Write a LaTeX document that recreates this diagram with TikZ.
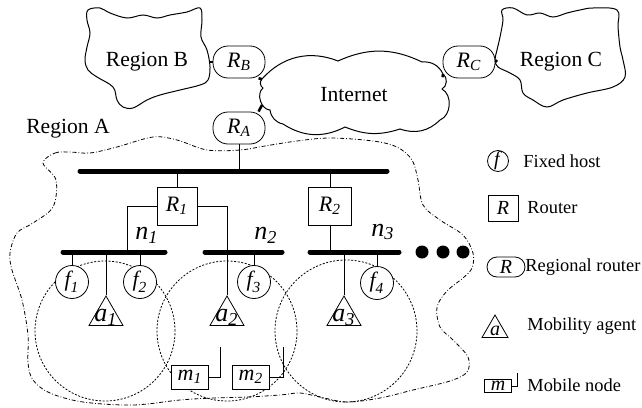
\documentclass[tikz,border=0pt]{standalone}
\usepackage{amsmath}
\usepackage{fontspec}
\setmainfont{Liberation Serif}
\usetikzlibrary{shapes.geometric}

\newcommand{\lbl}[2]{$\textit{#1}_{\textit{#2}}$}

\tikzset{
  host/.style={circle,draw,fill=white,minimum size=16.5pt,inner sep=0pt,font=\fontsize{11}{11}\selectfont},
  router/.style={rectangle,draw,fill=white,minimum width=20pt,minimum height=19pt,inner sep=0pt,font=\fontsize{11}{11}\selectfont},
  regrouter/.style={rectangle,rounded corners=7.5pt,draw,fill=white,minimum width=26pt,minimum height=16pt,inner sep=0pt,font=\fontsize{11}{11}\selectfont},
  agent/.style={regular polygon,regular polygon sides=3,draw,fill=white,minimum size=19.6pt,inner sep=0pt},
  mobile/.style={rectangle,draw,fill=white,minimum width=18.5pt,minimum height=12pt,inner sep=0pt,font=\fontsize{11}{11}\selectfont},
  bus/.style={line width=2.5pt,line cap=round},
  wire/.style={line width=0.5pt},
  link/.style={line width=1.3pt},
  cover/.style={line width=0.4pt,dash pattern=on 1pt off 0.8pt},
  border/.style={line width=0.4pt,dash pattern=on 2pt off 1pt on 0.4pt off 1pt},
  blob/.style={line width=0.5pt},
  legend/.style={anchor=west,inner sep=0pt,font=\fontsize{9.2}{10}\selectfont},
  region/.style={font=\fontsize{10.8}{12}\selectfont},
  netlbl/.style={font=\fontsize{13}{13}\selectfont}
}

\begin{document}
\begin{tikzpicture}[x=0.5pt,y=-0.5pt]
    \useasboundingbox (0,0) rectangle (642,407);

    \draw[blob] plot[smooth cycle,tension=0.6] coordinates {(88,10) (100,8) (110,13) (127,18) (143,15) (157,18) (170,15) (187,12) (200,8) (202,20) (201,37) (207,50) (210,67) (208,80) (200,85) (180,90) (160,95) (147,100) (133,108) (123,107) (117,100) (113,87) (97,77) (88,70) (85,60) (87,47) (90,33) (87,20)};
    \draw[blob] plot[smooth cycle,tension=0.6] coordinates {(502,10) (513,8) (527,15) (540,13) (553,17) (567,13) (580,10) (593,8) (617,10) (618,27) (620,47) (623,60) (625,77) (613,87) (587,93) (563,100) (547,107) (533,100) (523,93) (520,80) (510,73) (498,67) (495,60) (497,50) (500,37) (503,20)};

    \coordinate (c1) at (262,79);
    \coordinate (c2) at (338,61);
    \coordinate (c3) at (422,62);
    \coordinate (c4) at (443,74);
    \coordinate (c5) at (442,89);
    \coordinate (c6) at (440,120);
    \coordinate (c7) at (400,129);
    \coordinate (c8) at (345,127);
    \coordinate (c9) at (283,124);
    \coordinate (c10) at (270,110);
    \coordinate (c11) at (263,88);
    \draw[blob] (c1) to[bend left=35] (c2) to[bend left=25] (c3) to[bend left=35] (c4)
        to[bend left=60] (c5) to[bend left=65] (c6) to[bend left=32] (c7) to[bend left=20] (c8)
        to[bend left=30] (c9) to[bend left=35] (c10) to[bend left=70] (c11) to[bend left=53] cycle;

    \node[region] (regB) at (147,62) {Region B};
    \node[region] (regC) at (561,62) {Region C};
    \node[region] (inetlbl) at (354,95) {Internet};
    \node[region] (regA) at (68,129) {Region A};

    \draw[border] plot[smooth cycle,tension=0.55] coordinates {(43,163) (55,153) (70,152) (90,153) (117,147) (153,137) (177,140) (207,150) (240,150) (265,146) (297,141) (330,138) (373,141) (397,147) (412,160) (418,180) (423,205) (440,220) (463,235) (473,253) (472,268) (463,278) (447,291) (437,307) (440,327) (453,340) (468,357) (467,372) (450,381) (413,390) (380,398) (347,402) (320,397) (300,393) (280,395) (247,397) (213,398) (180,400) (133,405) (83,402) (50,393) (33,380) (28,363) (28,335) (22,300) (12,270) (10,253) (17,233) (33,223) (53,207) (56,180)};

    \draw[cover] (105,331) circle[radius=35pt];
    \draw[cover] (227,331) circle[radius=35pt];
    \draw[cover] (346,331) circle[radius=35.5pt];

    \node[regrouter] (RB) at (239,62) {\lbl{R}{B}};
    \node[regrouter] (RC) at (469,62) {\lbl{R}{C}};
    \node[regrouter] (RA) at (239,128) {\lbl{R}{A}};

    \coordinate (edgeB) at (209,62);
    \coordinate (edgeC) at (497,60);
    \coordinate (inetA) at (262,105);
    \draw[link] (RB.west) -- (edgeB);
    \draw[link] (RB.-40) -- (c1);
    \draw[link] (RC.-150) -- (c4);
    \draw[link] (RC.east) -- (edgeC);
    \draw[link] (RA.40) -- (inetA);

    \coordinate (b0w) at (80,171);
    \coordinate (b0e) at (387,171);
    \coordinate (b1w) at (63,252);
    \coordinate (b1e) at (165,252);
    \coordinate (b2w) at (205,252);
    \coordinate (b2e) at (282,252);
    \coordinate (b3w) at (310,252);
    \coordinate (b3e) at (399,252);
    \draw[bus] (b0w) -- (b0e);
    \draw[bus] (b1w) -- (b1e);
    \draw[bus] (b2w) -- (b2e);
    \draw[bus] (b3w) -- (b3e);

    \node[router] (R1) at (177,206) {\lbl{R}{1}};
    \node[router,minimum width=21.5pt] (R2) at (330,206) {\lbl{R}{2}};

    \coordinate (n1tap) at (127,252);
    \coordinate (n2tap) at (227,252);
    \draw[wire] (RA.south) -- (RA.south |- b0w);
    \draw[wire] (R1.north) -- (R1.north |- b0w);
    \draw[wire] (R2.north) -- (R2.north |- b0w);
    \draw[wire] (R1.west) -| (n1tap);
    \draw[wire] (R1.east) -| (n2tap);
    \draw[wire] (R2.south) -- (R2.south |- b3w);

    \node[netlbl] (n1) at (147,235) {\lbl{n}{1}};
    \node[netlbl] (n2) at (266,235) {\lbl{n}{2}};
    \node[netlbl] (n3) at (383,232) {\lbl{n}{3}};

    \foreach \i/\x in {1/422,2/443,3/463}
        \node[circle,fill,minimum size=6.5pt,inner sep=0pt] (dot\i) at (\x,252) {};

    \node[host] (f1) at (72,282) {\lbl{f}{1}};
    \node[host] (f2) at (140,282) {\lbl{f}{2}};
    \node[host] (f3) at (254,282) {\lbl{f}{3}};
    \node[host] (f4) at (377,283) {\lbl{f}{4}};
    \draw[wire] (f1.north) -- (f1.north |- b1w);
    \draw[wire] (f2.north) -- (f2.north |- b1w);
    \draw[wire] (f3.north) -- (f3.north |- b2w);
    \draw[wire] (f4.north) -- (f4.north |- b3w);

    \node[agent,label={[netlbl,yshift=-1pt]center:\lbl{a}{1}}] (a1) at (106,315.6) {};
    \node[agent,label={[netlbl,yshift=-1pt]center:\lbl{a}{2}}] (a2) at (227,315.6) {};
    \node[agent,label={[netlbl,yshift=-1pt]center:\lbl{a}{3}}] (a3) at (344,315.6) {};
    \draw[wire] (a1.corner 1) -- (a1.corner 1 |- b1w);
    \draw[wire] (a2.corner 1) -- (n2tap);
    \draw[wire] (a3.corner 1) -- (a3.corner 1 |- b3w);

    \node[mobile] (m1) at (190,377) {\lbl{m}{1}};
    \node[mobile] (m2) at (251,377) {\lbl{m}{2}};
    \coordinate (m1ant) at (220,347);
    \coordinate (m2ant) at (283,347);
    \draw[wire] (m1.east) -| (m1ant);
    \draw[wire] (m2.east) -| (m2ant);

    \node[host,minimum size=10.5pt,font=\fontsize{10}{10}\selectfont] (keyf) at (498,161) {\textit{f}};
    \node[legend] (keyftxt) at (523,161) {Fixed host};
    \node[router,minimum width=15pt,minimum height=13pt,font=\fontsize{10}{10}\selectfont] (keyR) at (503,208) {\textit{R}};
    \node[legend] (keyRtxt) at (527,208) {Router};
    \node[regrouter,minimum width=19pt,minimum height=10pt,rounded corners=5pt,font=\fontsize{10}{10}\selectfont] (keyRR) at (506,267) {\textit{R}};
    \node[legend] (keyRRtxt) at (525,267) {Regional router};
    \node[agent,minimum size=15pt,label={[font=\fontsize{10}{10}\selectfont,yshift=-0.5pt]center:\textit{a}}] (keya) at (495,330) {};
    \node[legend] (keyatxt) at (527,326) {Mobility agent};
    \node[mobile,minimum width=13.5pt,minimum height=6.5pt,font=\fontsize{10}{10}\selectfont] (keym) at (498,386) {\textit{m}};
    \coordinate (keymant) at (517,373);
    \draw[wire] (keym.east) -| (keymant);
    \node[legend] (keymtxt) at (527,385) {Mobile node};
\end{tikzpicture}
\end{document}
